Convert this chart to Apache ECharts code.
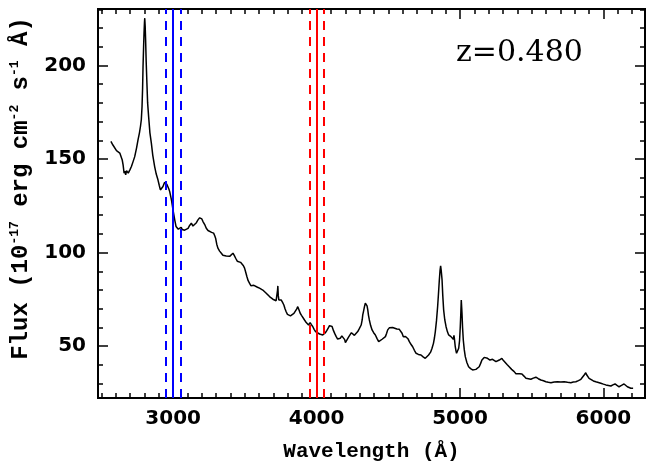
<!DOCTYPE html>
<html lang="en">
<head>
<meta charset="utf-8">
<title>Spectrum z=0.480</title>
<script src="https://cdn.jsdelivr.net/npm/echarts@6/dist/echarts.min.js"></script>
<style>
  html, body { margin: 0; padding: 0; background: #fff; }
  #main { width: 646px; height: 468px; }
</style>
</head>
<body>
<div id="main"></div>
<script type="text/javascript">
// wavelength (A) and flux
var wave = [2566,2580,2593,2605,2616,2628,2635,2645,2651,2658,2664,2669,2675,2681,2687,2692,2700,2709,2720,2732,
  2745,2755,2765,2772,2778,2783,2787,2790,2794,2797,2800,2802,2805,2808,2812,2817,2822,2829,2838,2848,
  2858,2871,2882,2894,2903,2911,2920,2929,2940,2948,2956,2964,2970,2976,2988,2999,3011,3020,3027,3036,
  3046,3056,3063,3069,3080,3092,3104,3115,3127,3138,3150,3162,3173,3185,3192,3200,3208,3220,3231,3243,
  3254,3268,3282,3290,3296,3304,3312,3324,3336,3347,3359,3370,3382,3394,3405,3417,3426,3436,3447,3458,
  3470,3482,3490,3498,3506,3514,3523,3533,3542,3552,3563,3575,3588,3602,3614,3625,3637,3649,3660,3672,
  3684,3695,3707,3718,3724,3728,3730,3733,3737,3745,3753,3762,3772,3780,3788,3797,3806,3818,3830,3842,
  3853,3861,3869,3877,3886,3895,3904,3916,3928,3936,3944,3955,3964,3974,3983,3993,4005,4021,4032,4043,
  4052,4062,4071,4081,4090,4099,4108,4118,4127,4137,4147,4155,4165,4176,4182,4188,4196,4201,4206,4215,
  4224,4233,4243,4253,4264,4275,4287,4299,4311,4318,4322,4327,4334,4340,4346,4352,4357,4362,4368,4377,
  4387,4398,4410,4421,4433,4445,4457,4468,4480,4488,4496,4507,4519,4530,4542,4560,4577,4586,4596,4605,
  4612,4620,4628,4637,4647,4658,4670,4682,4694,4710,4728,4743,4758,4770,4781,4795,4805,4815,4822,4828,
  4836,4844,4850,4856,4861,4865,4869,4875,4880,4886,4894,4903,4912,4921,4930,4937,4945,4953,4958,4961,
  4967,4972,4976,4983,4991,4997,5002,5006,5009,5012,5014,5018,5023,5030,5037,5048,5060,5074,5088,5100,
  5111,5122,5134,5144,5153,5161,5169,5180,5192,5200,5209,5218,5227,5238,5251,5262,5274,5283,5292,5303,
  5315,5328,5343,5360,5378,5390,5401,5416,5432,5446,5460,5477,5494,5511,5529,5546,5564,5582,5599,5616,
  5634,5657,5680,5703,5726,5750,5773,5790,5808,5826,5843,5855,5866,5872,5877,5883,5889,5900,5912,5930,
  5947,5965,5982,6000,6017,6035,6052,6066,6081,6095,6109,6126,6144,6155,6167,6180,6191,6207];
var flux = [159.4,157.5,156.7,154.5,154.0,153.2,152.8,149.5,146.9,142.4,143.5,141.5,143.8,144.2,142.5,142.8,144.5,146.0,148.5,151.3,
  156,160.3,164,167.4,171,178,188,199.5,210,217.3,223,225.3,221,213.7,202,190.6,180,172.7,164,158.5,
  152,146,142,138.9,136,133.5,134.5,135.3,137.5,138,136.5,136.2,134,132.6,128.2,122.8,117.5,114,113,112.5,
  112.1,113.5,112.4,113,112,111.2,113,114.5,115.7,114.2,113.9,116,117.5,118.6,119.6,118,116.6,115,113,111.8,
  111.2,110.8,110.4,109,107.7,104.5,102.4,100.8,99.7,98.6,97.9,98.2,97.5,98,98.8,99.7,98.5,97,95.4,94.7,
  94.8,94.3,93,91.7,89.5,87.2,85,83.6,82.3,81.5,82.5,82.7,81.5,81,80.7,80,79,78.3,77.6,76.5,
  75.6,75.1,74.8,74.3,75,80,82.2,77,74.7,75,74.7,73.5,72,70,68.4,67,66.1,66.2,66.7,67.5,
  68.4,69.8,71.1,69.5,67.6,66.5,65.8,64,62.6,62,61.3,62.6,61.5,60.4,59,57.8,57.2,56.5,56.4,56,
  56.5,57.2,58.3,59.6,61,61.9,60.5,58.3,56.7,55.1,53.8,52.9,54.2,55.5,56.5,56.2,53.5,51.9,52.5,53.8,
  55,56,57.2,56.6,55.8,56.8,57.8,59.5,61.3,64,66.7,68.5,71.1,73,73.3,71.5,69.4,66.5,64,61,
  58.7,57.2,56,54.2,52.4,53,53.7,54.5,55.1,56.8,58.7,59.8,60.4,60,59.6,59.2,59,58.2,56.9,55,
  54.2,55.2,56,54,52.4,51,49.7,47.8,46.2,45.6,45.3,44.3,43.5,44.2,45.3,46.8,48.9,51.5,54.5,57.8,
  63.5,71.1,78,85.4,90.5,92.9,90.5,85.4,77,69.4,64,60.4,57.8,56,55.5,55.1,54.5,53.7,55.8,54,
  49.7,47.5,46.2,46.6,48.9,53,60.4,68,74.7,70.5,67.6,60,53.3,48,44.4,41.3,39,38,37.3,37.2,
  37.6,38.2,39,40.8,42.6,43.6,44,43.4,43.5,42.6,42.6,43.6,43,42.2,41.7,42.3,42.6,43.2,43.5,42.3,
  41.7,40.2,39,37.6,36.4,35.3,34.6,35.2,35.1,34,32.8,32.6,32.3,32.9,33.4,32.6,31.9,31.5,31,30.7,
  30.5,30.9,31,30.8,31,30.7,30.5,30.8,31,31.6,32.3,33.3,34.6,35.4,35.8,34.7,33.7,32.8,31.9,31.4,
  31,30.6,30.2,29.7,29.3,29,28.7,29.3,29.8,29,28.3,29,29.8,29,28.3,28,27.5,27.5];

// marked wavelengths
var blueLines = [2950, 3000, 3050];
var redLines = [3950, 4000, 4050];

// tick labels
var xLabels = [3000, 4000, 5000, 6000];
var yLabels = [50, 100, 150, 200];

var XMIN = 2476, XMAX = 6290;
var YMIN = 22.3, YMAX = 230.2;

var xMinor = [], yMinor = [];
for (var v = 2500; v <= 6200; v += 100) xMinor.push(v);
for (var w = 30; w <= 230; w += 10) yMinor.push(w);

var pts = [];
for (var i = 0; i < wave.length; i++) pts.push([wave[i], flux[i]]);

var lines = [];
blueLines.forEach(function (x, k) {
  lines.push({ xAxis: x, lineStyle: { color: '#0000ff', width: 2, type: k === 1 ? 'solid' : [9, 7] } });
});
redLines.forEach(function (x, k) {
  lines.push({ xAxis: x, lineStyle: { color: '#ff0000', width: 2, type: k === 1 ? 'solid' : [9, 7] } });
});

var labelFont = { fontFamily: 'DejaVu Sans', fontWeight: 'bold', fontSize: 20, color: '#000' };
function plain(v) { return String(v); }

function xAx(pos, ticks, len, withLabel) {
  return {
    type: 'value', position: pos, min: XMIN, max: XMAX,
    axisLine: { show: true, onZero: false, lineStyle: { color: '#000', width: 2 } },
    axisTick: { show: true, inside: true, length: len, customValues: ticks, lineStyle: { color: '#000', width: 1.5 } },
    axisLabel: withLabel ? Object.assign({ show: true, margin: 11, customValues: xLabels, formatter: plain }, labelFont) : { show: false },
    splitLine: { show: false }
  };
}
function yAx(pos, ticks, len, withLabel) {
  return {
    type: 'value', position: pos, min: YMIN, max: YMAX,
    axisLine: { show: true, onZero: false, lineStyle: { color: '#000', width: 2 } },
    axisTick: { show: true, inside: true, length: len, customValues: ticks, lineStyle: { color: '#000', width: 1.5 } },
    axisLabel: withLabel ? Object.assign({ show: true, margin: 12, customValues: yLabels, formatter: plain }, labelFont) : { show: false },
    splitLine: { show: false }
  };
}

var xa0 = xAx('bottom', xLabels, 10, true);
xa0.name = 'Wavelength (Å)';
xa0.nameLocation = 'middle';
xa0.nameGap = 43;
xa0.nameTextStyle = { fontFamily: 'Liberation Mono', fontWeight: 'bold', fontSize: 21, color: '#000' };

var ya0 = yAx('left', yLabels, 10, true);
ya0.name = '{t|Flux (10}{s|-17}{t| erg cm}{s|-2}{t| s}{s|-1}{t| Å)}';
ya0.nameLocation = 'middle';
ya0.nameGap = 64;
ya0.nameTextStyle = {
  padding: [0, 0, 0, 30],
  rich: {
    t: { fontFamily: 'Liberation Mono', fontWeight: 'bold', fontSize: 24, color: '#000', lineHeight: 26 },
    s: { fontFamily: 'Liberation Mono', fontWeight: 'bold', fontSize: 13, color: '#000', lineHeight: 26, verticalAlign: 'top' }
  }
};

var myChart = echarts.init(document.getElementById('main'));
myChart.setOption({
  animation: false,
  backgroundColor: '#fff',
  title: {
    text: 'z=0.480', left: 451, top: 33,
    textStyle: { fontFamily: 'DejaVu Serif', fontSize: 30, fontWeight: 'normal', color: '#000' }
  },
  grid: { left: 98, right: 1, top: 9, bottom: 70, containLabel: false },
  xAxis: [xa0, xAx('bottom', xMinor, 5, false), xAx('top', xLabels, 10, false), xAx('top', xMinor, 5, false)],
  yAxis: [ya0, yAx('left', yMinor, 5, false), yAx('right', yLabels, 10, false), yAx('right', yMinor, 5, false)],
  series: [{
    type: 'line',
    xAxisIndex: 0, yAxisIndex: 0,
    data: pts,
    showSymbol: false,
    lineStyle: { color: '#000', width: 1.5 },
    markLine: { silent: true, symbol: 'none', label: { show: false }, data: lines }
  }]
});
</script>
</body>
</html>
